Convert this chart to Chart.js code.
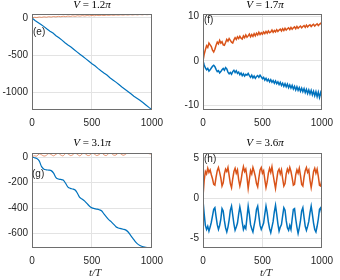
<!DOCTYPE html>
<html>
<head>
<meta charset="utf-8">
<script src="https://cdn.jsdelivr.net/npm/chart.js@4.4.1/dist/chart.umd.min.js"></script>
<style>
  body { margin: 0; background: #fff; }
  #wrap { position: relative; width: 340px; height: 280px; overflow: hidden; }
  canvas { position: absolute; }
  .title { position: absolute; width: 100px; text-align: center; font: 11px "Liberation Serif", serif; line-height: 11px; color: #000; }
  .xlab { position: absolute; width: 60px; text-align: center; font: italic 11px "Liberation Serif", serif; line-height: 11px; color: #262626; }
  .tag { position: absolute; font: 10px "Liberation Sans", Arial, sans-serif; line-height: 10px; color: #262626; }
</style>
</head>
<body>
<div id="wrap">
  <canvas id="cE" width="170" height="140" style="left:0;top:0"></canvas>
  <canvas id="cF" width="170" height="140" style="left:170px;top:0"></canvas>
  <canvas id="cG" width="170" height="140" style="left:0;top:140px"></canvas>
  <canvas id="cH" width="170" height="140" style="left:170px;top:140px"></canvas>

  <div class="title" style="left:42px;top:-1px"><i>V</i> = 1.2<i>π</i></div>
  <div class="title" style="left:215px;top:-1px"><i>V</i> = 1.7<i>π</i></div>
  <div class="title" style="left:42px;top:137px"><i>V</i> = 3.1<i>π</i></div>
  <div class="title" style="left:215px;top:137px"><i>V</i> = 3.6<i>π</i></div>

  <div class="tag" style="left:33px;top:27px">(e)</div>
  <div class="tag" style="left:204px;top:15px">(f)</div>
  <div class="tag" style="left:32px;top:169px">(g)</div>
  <div class="tag" style="left:204px;top:154px">(h)</div>

  <div class="xlab" style="left:65px;top:267px">t/T</div>
  <div class="xlab" style="left:236px;top:267px">t/T</div>
</div>
<script>
// time axes
const t10 = Array.from({ length: 101 }, (_, i) => i * 10);
const t20 = Array.from({ length: 51 }, (_, i) => i * 20);
const t25 = Array.from({ length: 41 }, (_, i) => i * 25);

// (e) V = 1.2pi
const eBlue = [0, -35, -62, -88, -118, -150, -180, -205, -240, -268, -300, -335, -365, -392, -425, -458, -490, -520, -552, -585,
  -618, -645, -680, -712, -742, -770, -805, -835, -865, -898, -930, -960, -990, -1022, -1055, -1082, -1110, -1140, -1172, -1205, -1235];
const eOrange = [0, 8, 4, 12, 7, 14, 9, 16, 11, 18, 13, 20, 15, 22, 17, 24, 19, 26, 21, 28, 23, 30, 25, 31, 27, 33,
  28, 34, 30, 36, 31, 37, 33, 39, 34, 40, 36, 41, 37, 42, 38, 43, 39, 44, 40, 45, 41, 46, 42, 46, 44];

// (f) V = 1.7pi
const fOrange = [0, 1.5, 2.5, 3.4, 3.0, 4.0, 3.6, 3.2, 2.4, 2.0, 2.6, 3.5, 4.2, 3.8, 4.6, 4.0, 4.3, 3.6, 3.5, 4.1,
  4.8, 4.4, 5.0, 4.6, 4.2, 4.0, 4.7, 5.2, 4.8, 5.4, 5.0, 5.5, 5.1, 4.9, 5.6, 5.2, 5.8, 5.3, 5.6, 6.0,
  5.4, 5.9, 5.5, 6.1, 5.6, 6.2, 5.8, 6.4, 5.9, 6.3, 6.0, 6.5, 6.1, 6.6, 6.2, 6.7, 6.3, 6.5, 6.9, 6.4,
  6.8, 6.5, 7.0, 6.6, 6.9, 7.1, 6.7, 7.2, 6.8, 7.3, 6.9, 7.2, 7.4, 7.0, 7.5, 7.1, 7.4, 7.6, 7.2, 7.7,
  7.3, 7.6, 7.8, 7.4, 7.7, 7.9, 7.5, 8.0, 7.6, 7.9, 8.1, 7.7, 8.0, 8.2, 7.8, 8.1, 8.3, 7.9, 8.2, 8.4, 8.1];
const fBlue = [0, -0.9, -1.6, -2.0, -1.7, -2.3, -2.0, -1.6, -1.2, -1.0, -1.3, -1.9, -2.4, -2.2, -2.7, -2.4, -2.0, -1.7, -2.1, -1.5,
  -1.8, -2.5, -2.9, -2.6, -3.0, -2.4, -2.1, -2.6, -2.2, -2.8, -2.5, -3.1, -2.7, -3.3, -2.9, -3.4, -3.0, -3.2, -2.8, -3.3,
  -3.7, -3.2, -3.8, -3.4, -3.9, -3.5, -3.3, -3.7, -3.2, -3.6, -4.0, -3.7, -4.3, -3.9, -4.5, -4.1, -4.7, -4.2, -4.8, -4.4,
  -5.0, -4.5, -5.1, -4.7, -5.3, -4.8, -5.5, -5.0, -5.7, -5.1, -5.8, -5.2, -6.0, -5.4, -6.1, -5.5, -6.3, -5.7, -6.5, -5.8,
  -6.6, -6.0, -6.8, -6.1, -6.9, -6.2, -7.1, -6.4, -7.3, -6.5, -7.4, -6.6, -7.6, -6.8, -7.8, -6.9, -8.0, -7.0, -8.2, -7.1, -8.0];

// (g) V = 3.1pi
const gOrange = [2, 10, 8, 25, 18, 8, 14, 28, 20, 10, 22, 30, 16, 10, 28, 26, 12, 18, 32, 20, 10, 26, 30, 14, 14, 30,
  24, 12, 20, 32, 18, 12, 28, 30, 16, 16, 32, 26, 14, 22, 34, 36, 38, 40, 41, 40, 38, 34, 30, 26, 22];
const gBlue = [0, -5, -12, -30, -75, -95, -100, -102, -106, -125, -160, -172, -175, -180, -205, -235, -245, -250, -258, -285,
  -318, -330, -345, -365, -385, -398, -403, -407, -412, -420, -445, -468, -490, -505, -525, -545, -555, -560, -565, -570,
  -585, -610, -635, -660, -680, -692, -700, -705, -708, -710, -712];

// (h) V = 3.6pi
const hOrange = [0.2, 2.2, 3.3, 3.0, 3.7, 3.2, 3.5, 2.9, 2.4, 1.7, 1.6, 2.6, 3.4, 3.8, 3.2, 2.5, 1.5, 1.9, 3.0, 3.6,
  3.3, 3.8, 2.8, 1.8, 1.3, 2.4, 3.3, 3.7, 3.1, 3.5, 2.3, 1.5, 2.2, 3.2, 3.9, 3.3, 3.6, 2.6, 1.2, 2.3,
  3.4, 3.0, 3.8, 3.3, 2.7, 1.8, 1.4, 2.5, 3.5, 3.8, 3.1, 3.4, 2.3, 1.3, 2.0, 3.1, 3.7, 3.2, 3.9, 2.9,
  2.0, 1.2, 2.3, 3.3, 3.6, 3.0, 3.5, 2.4, 1.5, 1.8, 3.0, 3.6, 3.2, 3.8, 3.3, 2.5, 1.6, 1.7, 2.9, 3.5,
  3.1, 3.7, 2.8, 1.7, 1.5, 2.6, 3.4, 3.8, 3.2, 3.5, 2.2, 1.3, 2.2, 3.3, 3.7, 3.1, 3.6, 2.7, 1.6, 1.5, 2.3];
const hBlue = [-0.3, -2.0, -3.4, -3.9, -3.5, -4.1, -3.6, -3.0, -2.2, -1.4, -1.2, -2.3, -3.3, -3.9, -3.4, -2.6, -1.3, -1.6, -2.8, -3.7,
  -4.2, -3.6, -2.7, -1.5, -1.0, -2.1, -3.2, -4.0, -3.6, -3.1, -2.0, -1.1, -1.9, -3.0, -3.9, -3.5, -3.8, -2.4, -1.0, -2.0,
  -3.3, -3.8, -4.2, -3.4, -2.6, -1.4, -1.0, -2.2, -3.4, -3.9, -3.5, -3.1, -2.0, -1.0, -1.8, -3.0, -3.8, -4.3, -3.6, -2.9,
  -1.7, -0.9, -2.0, -3.2, -4.1, -3.6, -3.3, -2.2, -1.2, -1.5, -2.8, -3.7, -4.0, -3.4, -3.9, -2.6, -1.4, -1.3, -2.6, -3.6,
  -4.4, -3.7, -2.8, -1.6, -1.2, -2.4, -3.5, -4.0, -3.5, -2.9, -1.8, -1.0, -2.0, -3.1, -3.9, -4.2, -3.5, -2.6, -1.4, -1.2, -2.0];

const BLUE = '#0072BD';
const ORANGE = '#D95319';

const frame = {
  id: 'frame',
  afterDraw(chart) {
    const { ctx, chartArea: a } = chart;
    ctx.save();
    ctx.strokeStyle = '#6e6e6e';
    ctx.lineWidth = 1;
    ctx.strokeRect(Math.round(a.left) + 0.5, Math.round(a.top) + 0.5, Math.round(a.right - a.left) - 1, Math.round(a.bottom - a.top) - 1);
    ctx.restore();
  }
};

function pts(t, v) { return v.map((y, i) => ({ x: t[i], y })); }

function panel(id, series, yMin, yMax, yTicks, pad, yW, xH) {
  new Chart(document.getElementById(id), {
    type: 'line',
    data: {
      datasets: series.map(s => ({
        data: pts(s.t, s.v),
        borderColor: s.color,
        borderWidth: s.w || 1,
        pointRadius: 0,
        tension: s.tension || 0,
        fill: false
      }))
    },
    options: {
      responsive: false,
      animation: false,
      events: [],
      layout: { padding: pad },
      plugins: { legend: { display: false }, tooltip: { enabled: false } },
      scales: {
        x: {
          type: 'linear', min: 0, max: 1000,
          afterBuildTicks: sc => { sc.ticks = [0, 500, 1000].map(value => ({ value })); },
          afterFit: sc => { sc.height = xH; },
          grid: { color: '#e3e3e3', drawTicks: false },
          border: { display: false },
          ticks: { padding: 7, color: '#262626', font: { family: 'Liberation Sans', size: 10 }, maxRotation: 0, callback: v => String(v) }
        },
        y: {
          min: yMin, max: yMax,
          afterBuildTicks: sc => { sc.ticks = yTicks.map(value => ({ value })); },
          afterFit: sc => { sc.width = yW; },
          grid: { color: '#e3e3e3', drawTicks: false },
          border: { display: false },
          ticks: { padding: 4, color: '#262626', font: { family: 'Liberation Sans', size: 10 }, callback: v => String(v) }
        }
      }
    },
    plugins: [frame]
  });
}

panel('cE', [
  { t: t20, v: eOrange, color: 'rgba(217,83,25,0.6)' },
  { t: t25, v: eBlue, color: BLUE, w: 1.2 }
], -1240, 52, [-1000, -500, 0], { left: 0, right: 13, top: 14, bottom: 0 }, 32, 30);

panel('cF', [
  { t: t10, v: fOrange, color: ORANGE, w: 1.5 },
  { t: t10, v: fBlue, color: BLUE, w: 1.5 }
], -11, 10.5, [-10, 0, 10], { left: 0, right: 12, top: 14, bottom: 0 }, 33, 30);

panel('cG', [
  { t: t20, v: gOrange, color: 'rgba(217,83,25,0.6)', tension: 0.4 },
  { t: t20, v: gBlue, color: BLUE, w: 1.2, tension: 0.3 }
], -712, 32, [-600, -400, -200, 0], { left: 0, right: 13, top: 13, bottom: 0 }, 32, 32);

panel('cH', [
  { t: t10, v: hOrange, color: ORANGE, w: 1.5 },
  { t: t10, v: hBlue, color: BLUE, w: 1.5 }
], -6.2, 5.6, [-5, 0, 5], { left: 0, right: 12, top: 13, bottom: 0 }, 33, 32);
</script>
</body>
</html>
